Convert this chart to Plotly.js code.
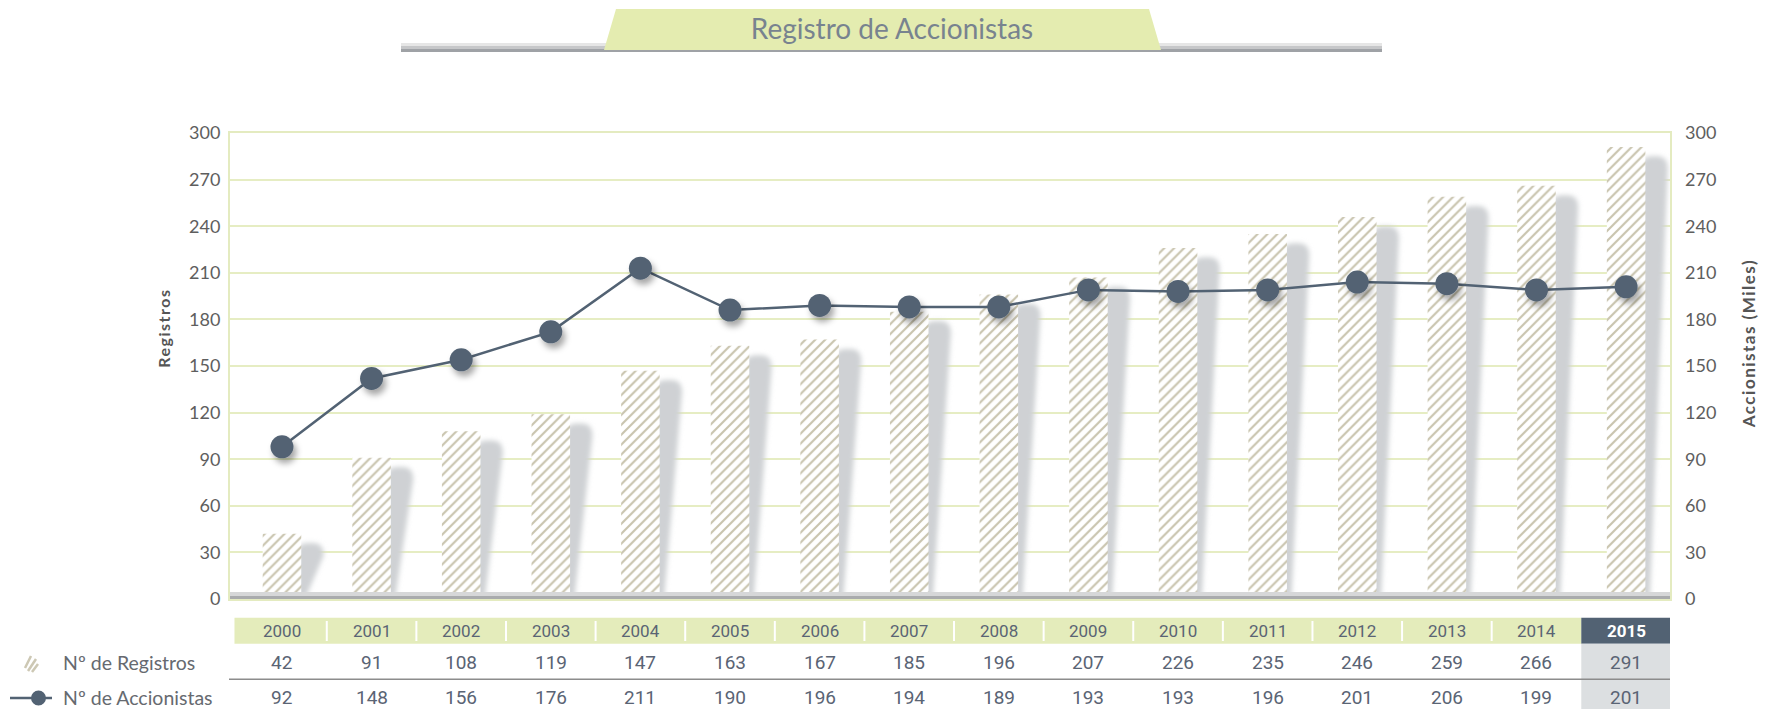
<!DOCTYPE html>
<html><head><meta charset="utf-8">
<script src="https://cdn.plot.ly/plotly-3.0.1.min.js"></script>
<style>html,body{margin:0;padding:0;background:#fff;}#chart{width:1775px;height:709px;}</style>
</head><body><div id="chart"></div>
<script>
// ---- data ----
const anios = ['2000','2001','2002','2003','2004','2005','2006','2007','2008','2009','2010','2011','2012','2013','2014','2015'];
const registros = [42,91,108,119,147,163,167,185,196,207,226,235,246,259,266,291];
const accionistasTabla = [92,148,156,176,211,190,196,194,189,193,193,196,201,206,199,201];
// line positions as drawn in the chart (right axis, miles)
const accionistasGrafico = [98,142,154,172,213,186,189,188,188,199,198,199,204,203,199,201];
const ejeTicks = [0,30,60,90,120,150,180,210,240,270,300];
const tituloGrafico = 'Registro de Accionistas';
const serieRegistros = 'Nº de Registros';
const serieAccionistas = 'Nº de Accionistas';
const tituloEjeIzq = 'Registros';
const tituloEjeDer = 'Accionistas (Miles)';

// ---- layout helpers ----
const L=230, R=1670, T=133, B=599;
const px = x => (x-L)/(R-L);
const py = y => (B-y)/(B-T);
const xs = anios.map((_,i)=>i);
const nLast = anios.length-1;

const verde='#e4ecbb', pizarra='#526273', textoTabla='#5a6474';

const shapes=[];
// bar shadows (drawn from the bar values)
registros.forEach((v,i)=>{
  const xr=i+0.215, top=v-6, w=0.25, rx=0.12, ry=8;
  shapes.push({type:'path', xref:'x', yref:'y', layer:'between',
    path:`M ${xr-0.05} 0 L ${xr-0.05} ${top-ry} Q ${xr-0.05} ${top} ${xr+0.07} ${top} L ${xr+w-rx} ${top} Q ${xr+w} ${top} ${xr+w} ${top-ry} L ${xr+0.05} 1 Z`,
    fillcolor:'#cfd1d4', line:{width:0}});
});
// base band of the plot
shapes.push({type:'rect', xref:'paper', yref:'paper', x0:0, x1:1, y0:py(596), y1:py(592), fillcolor:'#d6d7d8', line:{width:0}, layer:'above'});
shapes.push({type:'rect', xref:'paper', yref:'paper', x0:0, x1:1, y0:py(599), y1:py(596), fillcolor:'#a9abad', line:{width:0}, layer:'above'});
// title banner: gray bar + green trapezoid
shapes.push({type:'rect', xref:'paper', yref:'paper', x0:px(401), x1:px(1382), y0:py(46), y1:py(43), fillcolor:'#e6e6e6', line:{width:0}});
shapes.push({type:'rect', xref:'paper', yref:'paper', x0:px(401), x1:px(1382), y0:py(49), y1:py(46), fillcolor:'#c6c7c9', line:{width:0}});
shapes.push({type:'rect', xref:'paper', yref:'paper', x0:px(401), x1:px(1382), y0:py(52), y1:py(49), fillcolor:'#9fa2a6', line:{width:0}});
shapes.push({type:'path', xref:'paper', yref:'paper',
  path:`M ${px(616)} ${py(9)} L ${px(1149)} ${py(9)} L ${px(1161)} ${py(50)} L ${px(604)} ${py(50)} Z`,
  fillcolor:'#e4ecb0', line:{width:0}});
// table: year row
shapes.push({type:'rect', xref:'x', yref:'paper', x0:-0.53, x1:nLast-0.5, y0:py(643.7), y1:py(617.7), fillcolor:verde, line:{width:0}});
shapes.push({type:'rect', xref:'x', yref:'paper', x0:nLast-0.5, x1:nLast+0.5, y0:py(643.7), y1:py(617.7), fillcolor:pizarra, line:{width:0}});
shapes.push({type:'rect', xref:'x', yref:'paper', x0:nLast-0.5, x1:nLast+0.5, y0:py(709), y1:py(643.7), fillcolor:'#dcdfe1', line:{width:0}});
for(let i=0;i<nLast-1;i++){
  shapes.push({type:'line', xref:'x', yref:'paper', x0:i+0.5, x1:i+0.5, y0:py(641), y1:py(621), line:{color:'#ffffff', width:2}});
}
shapes.push({type:'line', xref:'paper', yref:'paper', x0:px(229), x1:px(1670), y0:py(679.3), y1:py(679.3), line:{color:'#8c8c8c', width:1.5}});
// legend icons
[[25,668,31,656],[28,671,36,659],[32,672,38,664]].forEach(s=>{
  shapes.push({type:'line', xref:'paper', yref:'paper', x0:px(s[0]), y0:py(s[1]), x1:px(s[2]), y1:py(s[3]), line:{color:'#cdc8b4', width:2.5}});
});
shapes.push({type:'line', xref:'paper', yref:'paper', x0:px(10), x1:px(52), y0:py(698), y1:py(698), line:{color:pizarra, width:2.5}});
shapes.push({type:'circle', xref:'paper', yref:'paper', x0:px(31), x1:px(46), y0:py(705.5), y1:py(690.5), fillcolor:pizarra, line:{width:0}});

const annotations=[];
anios.forEach((a,i)=>{
  const last = i===nLast;
  annotations.push({x:i, xref:'x', y:py(631), yref:'paper', text: last?'<b>'+a+'</b>':a, showarrow:false,
    font:{family:'Roboto', size:17, color: last?'#ffffff':textoTabla}, xanchor:'center', yanchor:'middle'});
  annotations.push({x:i, xref:'x', y:py(662), yref:'paper', text:String(registros[i]), showarrow:false,
    font:{family:'Roboto', size:19, color:textoTabla}, xanchor:'center', yanchor:'middle'});
  annotations.push({x:i, xref:'x', y:py(697), yref:'paper', text:String(accionistasTabla[i]), showarrow:false,
    font:{family:'Roboto', size:19, color:textoTabla}, xanchor:'center', yanchor:'middle'});
});
annotations.push({x:px(61), xref:'paper', y:py(662), yref:'paper', text:serieRegistros, showarrow:false, xanchor:'left', yanchor:'middle',
  font:{family:'Lato', size:19.5, color:'#666a70'}});
annotations.push({x:px(61), xref:'paper', y:py(697), yref:'paper', text:serieAccionistas, showarrow:false, xanchor:'left', yanchor:'middle',
  font:{family:'Lato', size:19.5, color:'#666a70'}});
annotations.push({x:px(163), xref:'paper', y:py(328), yref:'paper', text:'<b>'+tituloEjeIzq+'</b>', textangle:-90, showarrow:false,
  xanchor:'center', yanchor:'middle', font:{family:'Lato', size:16, color:'#555'}});
annotations.push({x:px(1748), xref:'paper', y:py(344), yref:'paper', text:'<b>'+tituloEjeDer+'</b>', textangle:-90, showarrow:false,
  xanchor:'center', yanchor:'middle', font:{family:'Lato', size:17, color:'#555'}});

const data=[
  {type:'bar', name:serieRegistros, x:xs, y:registros, width:0.43, yaxis:'y',
   marker:{color:'#ffffff', line:{width:0}, pattern:{shape:'/', fgcolor:'#c9c4ae', bgcolor:'#ffffff', size:7, solidity:0.3}},
   hoverinfo:'skip'},
  {type:'scatter', mode:'lines+markers', name:serieAccionistas, x:xs, y:accionistasGrafico, yaxis:'y2',
   line:{color:pizarra, width:2.5}, marker:{color:pizarra, size:23, line:{width:0}}, hoverinfo:'skip'}
];

const tickFont={family:'Lato', size:18, color:'#5e5e5e'};
const layout={
  width:1775, height:709, margin:{l:L, r:1775-R, t:T, b:709-B},
  paper_bgcolor:'#fff', plot_bgcolor:'#fff', showlegend:false,
  title:{text:tituloGrafico, font:{family:'Lato', size:28, color:'#78838f'}, x:892/1775, xanchor:'center', y:1-29/709, yanchor:'middle', xref:'container', yref:'container'},
  xaxis:{range:[-0.58,15.49], showticklabels:false, ticks:'', showgrid:false, zeroline:false,
    showline:true, mirror:true, linecolor:'#e4ebc0', linewidth:2},
  yaxis:{range:[0,300], tickvals:ejeTicks, ticktext:ejeTicks.map(String), tickfont:tickFont, ticks:'', ticklabelstandoff:4,
    gridcolor:'#e6edc3', gridwidth:2, zeroline:false, showline:true, mirror:true, linecolor:'#e4ebc0', linewidth:2},
  yaxis2:{range:[0,300], overlaying:'y', side:'right', tickvals:ejeTicks, ticktext:ejeTicks.map(String), tickfont:tickFont, ticks:'',
    ticklabelstandoff:14, showgrid:false, zeroline:false, showline:false},
  shapes:shapes, annotations:annotations
};

Plotly.newPlot('chart', data, layout, {staticPlot:true}).then(gd=>{
  const NS='http://www.w3.org/2000/svg';
  const svg=gd.querySelector('svg.main-svg');
  let defs=svg.querySelector('defs');
  if(!defs){defs=document.createElementNS(NS,'defs'); svg.insertBefore(defs, svg.firstChild);}
  const f1=document.createElementNS(NS,'filter');
  f1.setAttribute('id','sombraBarra'); f1.setAttribute('x','-60%'); f1.setAttribute('y','-20%');
  f1.setAttribute('width','220%'); f1.setAttribute('height','140%');
  const g1=document.createElementNS(NS,'feGaussianBlur'); g1.setAttribute('stdDeviation','2.5');
  f1.appendChild(g1); defs.appendChild(f1);
  const f2=document.createElementNS(NS,'filter');
  f2.setAttribute('id','sombraPunto'); f2.setAttribute('x','-50%'); f2.setAttribute('y','-50%');
  f2.setAttribute('width','220%'); f2.setAttribute('height','220%');
  const d2=document.createElementNS(NS,'feDropShadow');
  d2.setAttribute('dx','3'); d2.setAttribute('dy','5'); d2.setAttribute('stdDeviation','3');
  d2.setAttribute('flood-color','#000'); d2.setAttribute('flood-opacity','0.35');
  f2.appendChild(d2); defs.appendChild(f2);
  gd.querySelectorAll('.shapelayer path[data-index]').forEach(p=>{
    const k=+p.getAttribute('data-index');
    if(k<registros.length) p.setAttribute('filter','url(#sombraBarra)');
  });
  gd.querySelectorAll('.scatterlayer .point').forEach(p=>p.setAttribute('filter','url(#sombraPunto)'));
  gd.querySelectorAll('.annotation-text').forEach(t=>{
    if(t.textContent===tituloEjeIzq || t.textContent===tituloEjeDer) t.style.letterSpacing='1.5px';
  });
});
</script>
</body></html>
